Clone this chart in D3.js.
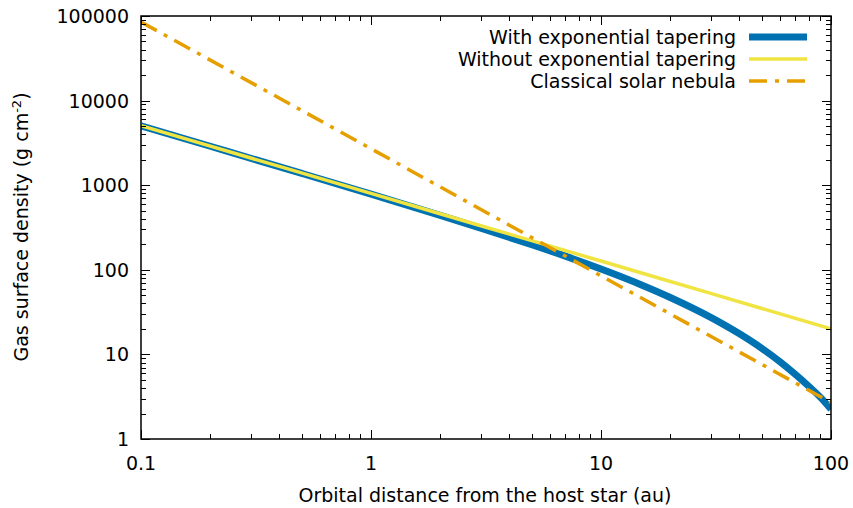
<!DOCTYPE html>
<html>
<head>
<meta charset="utf-8">
<script src="https://cdn.jsdelivr.net/npm/d3@7"></script>
<style>
body { margin: 0; background: #fff; }
text { font-family: "DejaVu Sans", sans-serif; font-size: 19px; fill: #000; }
</style>
</head>
<body>
<script>
// distances in au
let xTaper = [0.1, 0.2, 0.5, 1, 2, 3, 5, 7, 10, 15, 20, 30, 40, 50, 60, 70, 80, 90, 100];
let yTaper = [5037, 2886, 1378, 783, 440, 311, 198, 145, 102, 66.2, 47.1, 27.4, 17.5, 11.8, 8.2, 5.8, 4.2, 3.1, 2.25];

let xPlain = [0.1, 0.3, 1, 3, 10, 30, 100];
let yPlain = [5048, 2096, 800, 332, 127, 52.6, 20.1];

let xMmsn = [0.1, 1, 10, 100];
let yMmsn = [85000, 2700, 85, 2.7];

let seriesNames = ["With exponential tapering", "Without exponential tapering", "Classical solar nebula"];
let colors = ["#0072b2", "#f0e442", "#e69f00"];

let xTicks = [0.1, 1, 10, 100];
let yTicks = [1, 10, 100, 1000, 10000, 100000];

let w = 853, h = 508;
let pl = 141, pr = 831, pt = 16, pb = 439;

let svg = d3.select("body").append("svg")
    .attr("width", w)
    .attr("height", h);

let xScale = d3.scaleLog().domain([0.1, 100]).range([pl, pr]);
let yScale = d3.scaleLog().domain([1, 100000]).range([pb, pt]);

svg.append("clipPath").attr("id", "clip")
  .append("rect")
    .attr("x", pl).attr("y", pt)
    .attr("width", pr - pl).attr("height", pb - pt);

let line = d3.line()
    .x(d => xScale(d[0]))
    .y(d => yScale(d[1]))
    .curve(d3.curveMonotoneX);

let plot = svg.append("g").attr("clip-path", "url(#clip)");

let taperData = xTaper.map((d, i) => [d, yTaper[i]]);
let plainData = xPlain.map((d, i) => [d, yPlain[i]]);
let mmsnData = xMmsn.map((d, i) => [d, yMmsn[i]]);

plot.append("path").datum(taperData)
    .attr("d", line).attr("fill", "none")
    .attr("stroke", colors[0]).attr("stroke-width", 7);
plot.append("path").datum(plainData)
    .attr("d", line).attr("fill", "none")
    .attr("stroke", colors[1]).attr("stroke-width", 3.5);
plot.append("path").datum(mmsnData)
    .attr("d", line).attr("fill", "none")
    .attr("stroke", colors[2]).attr("stroke-width", 3.5)
    .attr("stroke-dasharray", "18,8,4,8");

// ticks on all four sides, pointing in
let xMinor = [];
let yMinor = [];
for (let e = -1; e < 2; e++) for (let k = 2; k < 10; k++) xMinor.push(k * Math.pow(10, e));
for (let e = 0; e < 5; e++) for (let k = 2; k < 10; k++) yMinor.push(k * Math.pow(10, e));

let ticks = svg.append("g").attr("stroke", "#000").attr("stroke-width", 1);
xTicks.concat(xMinor).forEach(v => {
  let len = xTicks.includes(v) ? 9 : 5;
  let x = Math.round(xScale(v)) + 0.5;
  ticks.append("line").attr("x1", x).attr("x2", x).attr("y1", pb).attr("y2", pb - len);
  ticks.append("line").attr("x1", x).attr("x2", x).attr("y1", pt).attr("y2", pt + len);
});
yTicks.concat(yMinor).forEach(v => {
  let len = yTicks.includes(v) ? 9 : 5;
  let y = Math.round(yScale(v)) + 0.5;
  ticks.append("line").attr("y1", y).attr("y2", y).attr("x1", pl).attr("x2", pl + len);
  ticks.append("line").attr("y1", y).attr("y2", y).attr("x1", pr).attr("x2", pr - len);
});

svg.append("rect")
    .attr("x", pl).attr("y", pt)
    .attr("width", pr - pl).attr("height", pb - pt)
    .attr("fill", "none").attr("stroke", "#000").attr("stroke-width", 1.5);

svg.selectAll(".xl").data(xTicks).enter().append("text")
    .attr("x", d => xScale(d)).attr("y", pb + 31)
    .attr("text-anchor", "middle")
    .text(d => d);

svg.selectAll(".yl").data(yTicks).enter().append("text")
    .attr("x", pl - 12).attr("y", d => yScale(d) + 7)
    .attr("text-anchor", "end")
    .text(d => d);

svg.append("text")
    .attr("x", 485).attr("y", 502)
    .attr("text-anchor", "middle")
    .text("Orbital distance from the host star (au)");

let yl = svg.append("text")
    .attr("transform", "translate(28,227) rotate(-90)")
    .attr("text-anchor", "middle");
yl.append("tspan").text("Gas surface density (g cm");
yl.append("tspan").attr("dy", -7).attr("font-size", 13).text("-2");
yl.append("tspan").attr("dy", 7).text(")");

// legend
let legend = svg.append("g");
seriesNames.forEach((name, i) => {
  let y = 37 + i * 22;
  legend.append("text")
      .attr("x", 736).attr("y", y + 7)
      .attr("text-anchor", "end")
      .text(name);
  let l = legend.append("line")
      .attr("x1", 749).attr("x2", 807)
      .attr("y1", y).attr("y2", y)
      .attr("stroke", colors[i])
      .attr("stroke-width", i == 0 ? 7 : 3.5);
  if (i == 2) l.attr("stroke-dasharray", "18,8,4,8");
});
</script>
</body>
</html>
